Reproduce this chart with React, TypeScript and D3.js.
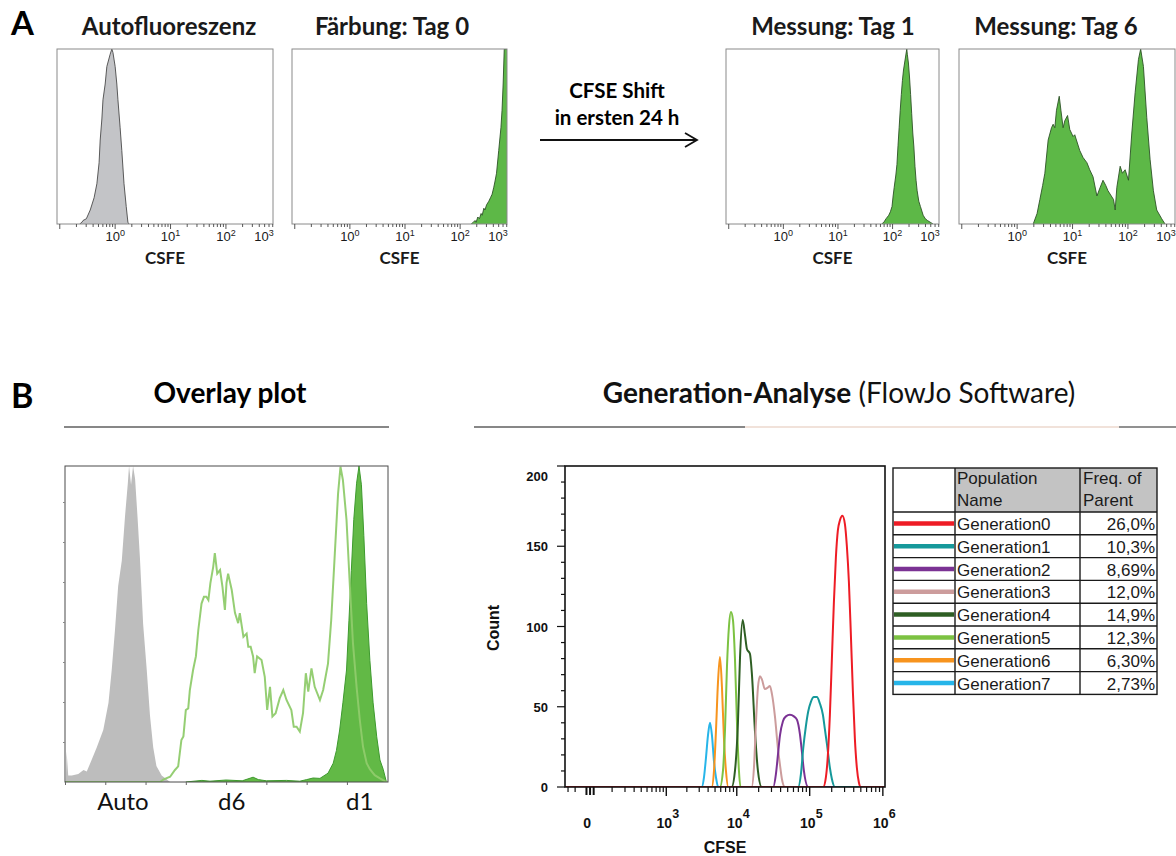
import React, { useEffect, useRef } from "react";
import * as d3 from "d3";

type Pt = [number, number];

// Panel A – single histograms (x: log10 CSFE, y: % of peak)
const autoFluorescence: Pt[] = [
  [-0.64, 0], [-0.6, 1], [-0.58, 2], [-0.52, 3], [-0.45, 8], [-0.38, 15], [-0.33, 23], [-0.29, 35],
  [-0.27, 48], [-0.24, 60], [-0.22, 71], [-0.18, 80], [-0.15, 90], [-0.09, 97], [-0.06, 100],
  [-0.04, 98], [0.0, 90], [0.03, 80], [0.05, 71], [0.09, 55], [0.12, 42], [0.16, 23], [0.2, 10],
  [0.23, 1], [0.25, 0],
];
const stainDay0: Pt[] = [
  [2.2, 0], [2.24, 1], [2.27, 2], [2.29, 1], [2.32, 4], [2.35, 3], [2.38, 6], [2.4, 5], [2.43, 9],
  [2.45, 8], [2.48, 11], [2.52, 13], [2.55, 15], [2.58, 17], [2.61, 21], [2.63, 24], [2.66, 29],
  [2.7, 42], [2.74, 55], [2.76, 65], [2.78, 80], [2.8, 100], [2.85, 100],
];
const measureDay1: Pt[] = [
  [1.8, 0], [1.84, 1], [1.88, 3], [1.93, 5], [1.96, 7], [1.99, 10], [2.01, 16], [2.03, 21], [2.06, 28],
  [2.08, 34], [2.1, 45], [2.12, 55], [2.14, 65], [2.16, 74], [2.18, 82], [2.2, 88], [2.22, 92],
  [2.24, 96], [2.26, 100], [2.27, 97], [2.29, 92], [2.31, 84], [2.33, 74], [2.35, 63], [2.37, 52],
  [2.39, 44], [2.41, 33], [2.43, 25], [2.45, 19], [2.48, 13], [2.51, 10], [2.53, 8], [2.56, 5],
  [2.6, 3], [2.64, 2], [2.69, 1], [2.74, 0],
];
const measureDay6: Pt[] = [
  [0.29, 0], [0.36, 6], [0.41, 14], [0.46, 22], [0.5, 29], [0.56, 48], [0.62, 55], [0.65, 57],
  [0.68, 55], [0.71, 65], [0.76, 73], [0.79, 65], [0.83, 55], [0.86, 59], [0.91, 62], [0.95, 54],
  [1.01, 50], [1.04, 51], [1.07, 48], [1.13, 42], [1.19, 38], [1.26, 35], [1.31, 31], [1.37, 27],
  [1.44, 16], [1.5, 21], [1.55, 25], [1.6, 22], [1.64, 19], [1.74, 14], [1.77, 8], [1.8, 21],
  [1.86, 33], [1.9, 29], [1.95, 31], [2.01, 25], [2.07, 52], [2.13, 75], [2.19, 94], [2.23, 100],
  [2.28, 90], [2.34, 61], [2.4, 37], [2.46, 19], [2.52, 8], [2.61, 3], [2.67, 0],
];
const panelATitles = ["Autofluoreszenz", "Färbung: Tag 0", "Messung: Tag 1", "Messung: Tag 6"];
const panelADecades = [0, 1, 2, 3];

// Panel B – overlay plot (x: channel, y: count)
const overlayAuto: Pt[] = [
  [0, 0], [0.02, 0], [0.04, 76], [0.08, 16], [0.17, 16], [0.33, 20], [0.46, 30], [0.54, 26],
  [0.66, 55], [0.79, 87], [0.95, 130], [1.08, 198], [1.16, 280], [1.24, 379], [1.32, 490],
  [1.41, 553], [1.49, 664], [1.56, 747], [1.59, 790], [1.64, 743], [1.69, 790], [1.74, 758],
  [1.8, 664], [1.86, 561], [1.94, 395], [2.03, 280], [2.11, 166], [2.19, 87], [2.27, 40],
  [2.4, 16], [2.61, 0],
];
const overlayDay1: Pt[] = [
  [3.0, 0], [3.4, 4], [3.6, 2], [4.0, 5], [4.4, 3], [4.67, 12], [4.8, 6], [5.0, 3], [5.5, 4],
  [5.83, 2], [6.0, 6], [6.16, 10], [6.33, 9], [6.53, 22], [6.66, 47], [6.74, 79], [6.82, 130],
  [6.9, 198], [6.99, 280], [7.05, 403], [7.11, 529], [7.17, 656], [7.24, 747], [7.3, 790],
  [7.36, 743], [7.42, 616], [7.49, 446], [7.57, 304], [7.65, 198], [7.74, 113], [7.82, 55],
  [7.9, 32], [7.98, 0],
];
const overlayDay6: Pt[] = [
  [0, 0], [2.36, 0], [2.44, 6], [2.61, 13], [2.73, 30], [2.81, 39], [2.89, 105], [2.94, 114],
  [3.0, 180], [3.06, 184], [3.1, 230], [3.18, 280], [3.25, 314], [3.31, 380], [3.39, 446],
  [3.45, 463], [3.51, 463], [3.56, 455], [3.61, 497], [3.68, 538], [3.72, 572], [3.78, 521],
  [3.85, 530], [3.91, 488], [3.97, 430], [4.01, 497], [4.05, 521], [4.14, 480], [4.22, 423],
  [4.3, 397], [4.34, 422], [4.43, 363], [4.51, 371], [4.55, 338], [4.61, 338], [4.67, 314],
  [4.71, 272], [4.77, 314], [4.88, 305], [4.96, 263], [5.02, 180], [5.09, 238], [5.15, 164],
  [5.23, 172], [5.33, 209], [5.42, 230], [5.5, 205], [5.62, 180], [5.68, 138], [5.75, 138],
  [5.83, 126], [5.91, 172], [5.98, 272], [6.04, 226], [6.12, 284], [6.2, 238], [6.33, 205],
  [6.41, 230], [6.53, 296], [6.61, 405], [6.7, 572], [6.78, 721], [6.84, 788], [6.9, 755],
  [6.99, 655], [7.07, 497], [7.15, 347], [7.24, 238], [7.32, 155], [7.4, 88], [7.49, 47],
  [7.57, 32], [7.69, 17], [7.82, 9], [7.94, 2], [8.0, 0],
];
const overlayTickNames = ["Auto", "d6", "d1"];
const overlayTickAt = [1.44, 4.14, 7.32];

// Panel B – FlowJo generation analysis (x: CFSE, y: count)
const genNames = [
  "Generation0", "Generation1", "Generation2", "Generation3",
  "Generation4", "Generation5", "Generation6", "Generation7",
];
const genFreq = ["26,0%", "10,3%", "8,69%", "12,0%", "14,9%", "12,3%", "6,30%", "2,73%"];
const genColors = [
  "#ee1c25", "#16999b", "#7b3294", "#cc9c9c", "#2e5e23", "#7cc242", "#f7941e", "#27b5e9",
];
const gen0: Pt[] = [
  [153000, 0], [166500, 6], [177400, 20], [188900, 45], [201200, 80], [214200, 115],
  [228100, 143], [243000, 160], [258700, 166], [279800, 169], [302800, 164], [322400, 150],
  [343400, 128], [365600, 95], [389100, 60], [414900, 30], [441500, 12], [469900, 3], [493000, 0],
];
const gen1: Pt[] = [
  [69680, 0], [75870, 8], [81560, 24], [88800, 38], [95450, 47], [103900, 53], [114200, 56],
  [125500, 56], [137900, 52], [151600, 45], [161400, 36], [171900, 27], [188900, 12],
  [201200, 5], [221100, 0],
];
const gen2: Pt[] = [
  [31690, 0], [34500, 8], [36770, 20], [39160, 32], [43050, 41], [47310, 44], [53620, 45],
  [60850, 44], [66890, 42], [73520, 33], [78260, 22], [83380, 10], [95450, 0],
];
const gen3: Pt[] = [
  [16030, 0], [17240, 12], [18360, 40], [19560, 62], [20840, 69], [22180, 67], [24390, 61],
  [26820, 62], [28540, 63], [30420, 58], [33450, 44], [36770, 24], [39160, 14], [41690, 5],
  [45820, 0],
];
const gen4: Pt[] = [
  [8500, 0], [9440, 10], [10380, 40], [11070, 80], [12050, 104], [12960, 95], [13800, 86],
  [15180, 83], [16180, 70], [17790, 35], [19560, 10], [21980, 0],
];
const gen5: Pt[] = [
  [5850, 0], [6440, 10], [6870, 35], [7320, 75], [7800, 100], [8310, 109], [8860, 104],
  [9440, 80], [10060, 40], [10720, 10], [11240, 0],
];
const gen6: Pt[] = [
  [4490, 0], [4830, 10], [5150, 35], [5490, 65], [5850, 81], [6240, 62], [6650, 30],
  [7090, 10], [7630, 0],
];
const gen7: Pt[] = [
  [3250, 0], [3500, 6], [3730, 18], [3980, 32], [4250, 40], [4530, 32], [4830, 16],
  [5150, 6], [5540, 0],
];
const genCurves = [gen0, gen1, gen2, gen3, gen4, gen5, gen6, gen7];
const countTicks = [0, 50, 100, 150, 200];
const cfseDecades = [3, 4, 5, 6];

const TITLE_FONT = "Lato, 'Open Sans', sans-serif";
const ARIAL = "'Liberation Sans', Arial, sans-serif";

function App() {
  const ref = useRef<SVGSVGElement>(null);

  useEffect(() => {
    const svg = d3.select(ref.current);
    svg.selectAll("*").remove();
    const defs = svg.append("defs");

    // ---------- panel letters ----------
    svg.append("text").attr("x", 11).attr("y", 35).attr("font-family", TITLE_FONT)
      .attr("font-weight", 700).attr("font-size", 33).text("A");
    svg.append("text").attr("x", 11).attr("y", 408).attr("font-family", TITLE_FONT)
      .attr("font-weight", 700).attr("font-size", 34).text("B");

    // ---------- Panel A ----------
    const aTop = 49;
    const aBottom = 224;
    const aFrames = [[57, 273], [292, 507], [726, 939], [959, 1175]];
    const aTitleX = [169, 392, 833, 1056];
    const aData = [autoFluorescence, stainDay0, measureDay1, measureDay6];

    aFrames.forEach(([l, r], i) => {
      const x = d3.scaleLinear().domain([-1.05, 2.85]).range([l, r]);
      const y = d3.scaleLinear().domain([0, 100]).range([aBottom, aTop]);

      defs.append("clipPath").attr("id", `clipA${i}`)
        .append("rect").attr("x", l).attr("y", aTop)
        .attr("width", r - l).attr("height", aBottom - aTop);

      const area = d3.area<Pt>().x((d) => x(d[0])).y0(aBottom).y1((d) => y(d[1]));
      const line = d3.line<Pt>().x((d) => x(d[0])).y((d) => y(d[1]));

      svg.append("path").datum(aData[i]).attr("clip-path", `url(#clipA${i})`)
        .attr("d", area).attr("fill", i === 0 ? "#c3c4c7" : "#5db847");
      svg.append("path").datum(aData[i]).attr("clip-path", `url(#clipA${i})`)
        .attr("d", line).attr("fill", "none")
        .attr("stroke", i === 0 ? "#4a4a4a" : "#2c5226").attr("stroke-width", 0.9);

      svg.append("rect").attr("x", l).attr("y", aTop).attr("width", r - l)
        .attr("height", aBottom - aTop).attr("fill", "none")
        .attr("stroke", "#8a8a8a").attr("stroke-width", 1);

      // log ticks
      const g = svg.append("g");
      for (let d = -1; d <= 2; d++) {
        for (let m = 1; m <= 9; m++) {
          const v = d + Math.log10(m);
          if (v < -1.05 || v > 2.85) continue;
          g.append("line").attr("x1", x(v)).attr("x2", x(v))
            .attr("y1", aBottom).attr("y2", aBottom + (m === 1 ? 5 : 3))
            .attr("stroke", "#444").attr("stroke-width", 0.9);
        }
      }

      panelADecades.forEach((d) => {
        const t = svg.append("text").attr("x", Math.min(x(d), r - 9)).attr("y", 241)
          .attr("text-anchor", "middle").attr("font-family", ARIAL)
          .attr("font-size", 13).attr("fill", "#1a1a1a");
        t.append("tspan").text("10");
        t.append("tspan").attr("dy", -5).attr("font-size", 9).text(d);
      });

      svg.append("text").attr("x", aTitleX[i]).attr("y", 35).attr("text-anchor", "middle")
        .attr("font-family", TITLE_FONT).attr("font-weight", 700).attr("font-size", 24)
        .attr("fill", "#1a1a1a").text(panelATitles[i]);
      svg.append("text").attr("x", (l + r) / 2).attr("y", 264).attr("text-anchor", "middle")
        .attr("font-family", TITLE_FONT).attr("font-weight", 700).attr("font-size", 17)
        .attr("fill", "#1a1a1a").text("CSFE");
    });

    // arrow between day 0 and day 1
    svg.append("text").attr("x", 617).attr("y", 98).attr("text-anchor", "middle")
      .attr("font-family", TITLE_FONT).attr("font-weight", 700).attr("font-size", 20.5)
      .text("CFSE Shift");
    svg.append("text").attr("x", 617).attr("y", 125).attr("text-anchor", "middle")
      .attr("font-family", TITLE_FONT).attr("font-weight", 700).attr("font-size", 20.5)
      .text("in ersten 24 h");
    svg.append("line").attr("x1", 540).attr("x2", 696).attr("y1", 140).attr("y2", 140)
      .attr("stroke", "#111").attr("stroke-width", 1.8);
    svg.append("polyline").attr("points", "685,133 697,140 685,147")
      .attr("fill", "none").attr("stroke", "#111").attr("stroke-width", 1.8);

    // ---------- Panel B: overlay ----------
    svg.append("text").attr("x", 230).attr("y", 403).attr("text-anchor", "middle")
      .attr("font-family", TITLE_FONT).attr("font-weight", 700).attr("font-size", 28)
      .text("Overlay plot");
    svg.append("line").attr("x1", 64).attr("x2", 389).attr("y1", 427).attr("y2", 427)
      .attr("stroke", "#111").attr("stroke-width", 1.2);

    const oL = 65, oR = 388, oT = 466, oB = 782;
    const ox = d3.scaleLinear().domain([0, 8.02]).range([oL, oR]);
    const oy = d3.scaleLinear().domain([0, 790]).range([oB, oT]);
    defs.append("clipPath").attr("id", "clipO").append("rect")
      .attr("x", oL).attr("y", oT - 1).attr("width", oR - oL).attr("height", oB - oT + 1);

    const oArea = d3.area<Pt>().x((d) => ox(d[0])).y0(oB).y1((d) => oy(d[1]));
    const oLine = d3.line<Pt>().x((d) => ox(d[0])).y((d) => oy(d[1]));

    svg.append("path").datum(overlayAuto).attr("clip-path", "url(#clipO)")
      .attr("d", oArea).attr("fill", "#bdbdbd");
    svg.append("path").datum(overlayDay1).attr("clip-path", "url(#clipO)")
      .attr("d", oArea).attr("fill", "#62b946");
    svg.append("path").datum(overlayDay1).attr("clip-path", "url(#clipO)")
      .attr("d", oLine).attr("fill", "none").attr("stroke", "#3e9a2e").attr("stroke-width", 1);
    svg.append("path").datum(overlayDay6).attr("clip-path", "url(#clipO)")
      .attr("d", oLine).attr("fill", "none").attr("stroke", "#8fcb6c")
      .attr("stroke-width", 2).attr("stroke-opacity", 0.95);

    svg.append("rect").attr("x", oL).attr("y", oT).attr("width", oR - oL)
      .attr("height", oB - oT).attr("fill", "none").attr("stroke", "#4a4a4a").attr("stroke-width", 1);

    const oxAxis = svg.append("g").attr("transform", `translate(0, ${oB})`)
      .call(d3.axisBottom(ox).tickValues(d3.range(0, 8)).tickSize(3).tickFormat(() => ""));
    oxAxis.select(".domain").remove();
    oxAxis.selectAll("line").attr("stroke", "#666");
    const oyAxis = svg.append("g").attr("transform", `translate(${oL}, 0)`)
      .call(d3.axisLeft(oy).tickValues(d3.range(100, 800, 100)).tickSize(2).tickFormat(() => ""));
    oyAxis.select(".domain").remove();
    oyAxis.selectAll("line").attr("stroke", "#888");

    overlayTickNames.forEach((name, i) => {
      svg.append("text").attr("x", ox(overlayTickAt[i])).attr("y", 810)
        .attr("text-anchor", "middle").attr("font-family", TITLE_FONT)
        .attr("font-size", 24).attr("fill", "#111").text(name);
    });

    // ---------- Panel B: generation analysis ----------
    const title = svg.append("text").attr("x", 839).attr("y", 403).attr("text-anchor", "middle")
      .attr("font-family", TITLE_FONT).attr("font-size", 28).attr("fill", "#111");
    title.append("tspan").attr("font-weight", 700).text("Generation-Analyse");
    title.append("tspan").attr("font-weight", 400).text(" (FlowJo Software)");
    svg.append("line").attr("x1", 474).attr("x2", 745).attr("y1", 427).attr("y2", 427)
      .attr("stroke", "#111").attr("stroke-width", 1.2);
    svg.append("line").attr("x1", 745).attr("x2", 1119).attr("y1", 427).attr("y2", 427)
      .attr("stroke", "#e4c6b6").attr("stroke-width", 1.2);
    svg.append("line").attr("x1", 1119).attr("x2", 1176).attr("y1", 427).attr("y2", 427)
      .attr("stroke", "#6d6d6d").attr("stroke-width", 1.5);

    const gL = 565, gR = 885, gT = 466, gB = 787;
    const gx = d3.scaleSymlog().constant(100).domain([-120, 1.07e6]).range([gL, gR]);
    const gy = d3.scaleLinear().domain([0, 200]).range([gB, gT]);
    defs.append("clipPath").attr("id", "clipG").append("rect")
      .attr("x", gL).attr("y", gT).attr("width", gR - gL).attr("height", gB - gT);

    const gLine = d3.line<Pt>().x((d) => gx(d[0])).y((d) => gy(d[1])).curve(d3.curveMonotoneX);
    for (let i = genCurves.length - 1; i >= 0; i--) {
      const pts: Pt[] = [[-120, 0], ...genCurves[i], [1.07e6, 0]];
      svg.append("path").datum(pts).attr("clip-path", "url(#clipG)")
        .attr("d", gLine).attr("fill", "none").attr("stroke", genColors[i])
        .attr("stroke-width", 2);
    }

    svg.append("rect").attr("x", gL).attr("y", gT).attr("width", gR - gL)
      .attr("height", gB - gT).attr("fill", "none").attr("stroke", "#111").attr("stroke-width", 1.6);

    // y ticks
    d3.range(0, 201, 10).forEach((v) => {
      const major = v % 50 === 0;
      svg.append("line").attr("x1", gL).attr("x2", gL - (major ? 8 : 4))
        .attr("y1", gy(v)).attr("y2", gy(v)).attr("stroke", "#111").attr("stroke-width", 1.2);
    });
    countTicks.forEach((v) => {
      svg.append("text").attr("x", 548).attr("y", Math.max(gy(v), gT + 10) + 5)
        .attr("text-anchor", "end").attr("font-family", ARIAL).attr("font-weight", 700)
        .attr("font-size", 13).attr("fill", "#111").text(v);
    });
    svg.append("text").attr("transform", "translate(499, 628) rotate(-90)")
      .attr("text-anchor", "middle").attr("font-family", ARIAL).attr("font-weight", 700)
      .attr("font-size", 16).attr("fill", "#111").text("Count");

    // x ticks (biexponential)
    const minorX: number[] = [-100, -60];
    [100, 1000, 10000, 100000].forEach((base) => {
      for (let m = 2; m <= 9; m++) minorX.push(m * base);
    });
    minorX.push(100);
    minorX.forEach((v) => {
      svg.append("line").attr("x1", gx(v)).attr("x2", gx(v)).attr("y1", gB).attr("y2", gB + 5)
        .attr("stroke", "#111").attr("stroke-width", 1.2);
    });
    [-12, 0, 12].forEach((v) => {
      svg.append("line").attr("x1", gx(v)).attr("x2", gx(v)).attr("y1", gB).attr("y2", gB + 8)
        .attr("stroke", "#111").attr("stroke-width", 2);
    });
    cfseDecades.forEach((d) => {
      const v = Math.pow(10, d);
      svg.append("line").attr("x1", gx(v)).attr("x2", gx(v)).attr("y1", gB).attr("y2", gB + 9)
        .attr("stroke", "#111").attr("stroke-width", 1.4);
      svg.append("text").attr("x", gx(v) - 2).attr("y", 828).attr("text-anchor", "middle")
        .attr("font-family", ARIAL).attr("font-weight", 700).attr("font-size", 14)
        .attr("fill", "#111").text("10");
      svg.append("text").attr("x", gx(v) + 6).attr("y", 818)
        .attr("font-family", ARIAL).attr("font-weight", 700).attr("font-size", 12.5)
        .attr("fill", "#111").text(d);
    });
    svg.append("text").attr("x", gx(0) - 3).attr("y", 828).attr("text-anchor", "middle")
      .attr("font-family", ARIAL).attr("font-weight", 700).attr("font-size", 14)
      .attr("fill", "#111").text("0");
    svg.append("text").attr("x", 725).attr("y", 853).attr("text-anchor", "middle")
      .attr("font-family", ARIAL).attr("font-weight", 700).attr("font-size", 16)
      .attr("fill", "#111").text("CFSE");

    // ---------- legend table ----------
    const tL = 893, tR = 1157, c1 = 955, c2 = 1080;
    const tT = 468, hB = 512, rowH = 22.8;
    const tB = hB + rowH * genNames.length;

    svg.append("rect").attr("x", c1).attr("y", tT).attr("width", tR - c1)
      .attr("height", hB - tT).attr("fill", "#c3c3c3");
    const tg = svg.append("g").attr("stroke", "#1a1a1a").attr("stroke-width", 1.4);
    tg.append("rect").attr("x", tL).attr("y", tT).attr("width", tR - tL)
      .attr("height", tB - tT).attr("fill", "none");
    [c1, c2].forEach((cx) => {
      tg.append("line").attr("x1", cx).attr("x2", cx).attr("y1", tT).attr("y2", tB);
    });
    d3.range(genNames.length).forEach((i) => {
      const yy = hB + i * rowH;
      tg.append("line").attr("x1", tL).attr("x2", tR).attr("y1", yy).attr("y2", yy);
    });

    const cellText = (x: number, y: number, s: string, anchor = "start") =>
      svg.append("text").attr("x", x).attr("y", y).attr("text-anchor", anchor)
        .attr("font-family", ARIAL).attr("font-size", 17).attr("fill", "#1a1a1a").text(s);
    cellText(c1 + 2, 484, "Population");
    cellText(c1 + 2, 506, "Name");
    cellText(c2 + 3, 484, "Freq. of");
    cellText(c2 + 3, 506, "Parent");

    genNames.forEach((name, i) => {
      const top = hB + i * rowH;
      svg.append("line").attr("x1", tL + 1).attr("x2", c1 - 1)
        .attr("y1", top + rowH / 2).attr("y2", top + rowH / 2)
        .attr("stroke", genColors[i]).attr("stroke-width", 4.5);
      cellText(c1 + 2, top + 18, name);
      cellText(tR - 2, top + 18, genFreq[i], "end");
    });
  }, []);

  return (
    <svg
      ref={ref}
      width={1176}
      height={856}
      style={{ position: "absolute", left: 0, top: 0, background: "#fff" }}
    ></svg>
  );
}

export default App;
